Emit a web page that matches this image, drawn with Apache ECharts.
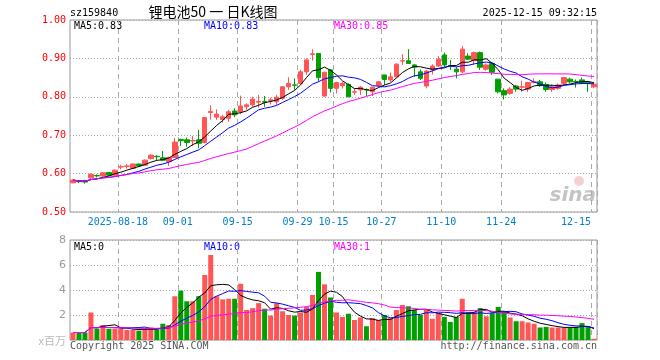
<!DOCTYPE html>
<html><head><meta charset="utf-8">
<script src="https://cdn.jsdelivr.net/npm/echarts@6/dist/echarts.min.js"></script>
<style>html,body{margin:0;padding:0;background:#fff}#c{width:660px;height:360px}</style>
</head><body><div id="c"></div>
<script>
const dates = [
'2025-08-06','2025-08-07','2025-08-08','2025-08-11','2025-08-12','2025-08-13','2025-08-14','2025-08-15','2025-08-18','2025-08-19',
'2025-08-20','2025-08-21','2025-08-22','2025-08-25','2025-08-26','2025-08-27','2025-08-28','2025-08-29',
'2025-09-01','2025-09-02','2025-09-03','2025-09-04','2025-09-05','2025-09-08','2025-09-09','2025-09-10','2025-09-11','2025-09-12',
'2025-09-15','2025-09-16','2025-09-17','2025-09-18','2025-09-19','2025-09-22','2025-09-23','2025-09-24','2025-09-25','2025-09-26',
'2025-09-29','2025-09-30',
'2025-10-09','2025-10-10','2025-10-13','2025-10-14','2025-10-15','2025-10-16','2025-10-17','2025-10-20','2025-10-21','2025-10-22',
'2025-10-23','2025-10-24','2025-10-27','2025-10-28','2025-10-29','2025-10-30','2025-10-31',
'2025-11-03','2025-11-04','2025-11-05','2025-11-06','2025-11-07','2025-11-10','2025-11-11','2025-11-12','2025-11-13','2025-11-14',
'2025-11-17','2025-11-18','2025-11-19','2025-11-20','2025-11-21','2025-11-24','2025-11-25','2025-11-26','2025-11-27','2025-11-28',
'2025-12-01','2025-12-02','2025-12-03','2025-12-04','2025-12-05','2025-12-08','2025-12-09','2025-12-10','2025-12-11','2025-12-12',
'2025-12-15'];

const opens = [0.576,0.580,0.581,0.589,0.595,0.594,0.603,0.596,0.617,0.619,
0.614,0.625,0.622,0.639,0.645,0.641,0.631,0.642,0.689,0.688,
0.685,0.688,0.681,0.759,0.747,0.741,0.744,0.763,0.761,0.774,
0.779,0.786,0.788,0.790,0.787,0.796,0.826,0.831,0.835,0.865,
0.910,0.913,0.802,0.870,0.822,0.829,0.832,0.812,0.818,0.819,
0.813,0.830,0.857,0.844,0.852,0.893,0.894,0.883,0.865,0.828,
0.870,0.880,0.909,0.881,0.872,0.865,0.906,0.894,0.915,0.872,
0.887,0.846,0.816,0.809,0.828,0.825,0.820,0.838,0.839,0.832,
0.819,0.822,0.835,0.846,0.840,0.844,0.838,0.826];

const closes = [0.583,0.579,0.578,0.598,0.594,0.602,0.596,0.609,0.618,0.620,
0.625,0.620,0.635,0.648,0.644,0.635,0.642,0.682,0.686,0.681,
0.686,0.679,0.746,0.762,0.755,0.748,0.761,0.753,0.776,0.779,
0.794,0.788,0.786,0.792,0.799,0.826,0.835,0.830,0.865,0.896,
0.912,0.850,0.864,0.822,0.837,0.835,0.800,0.813,0.825,0.818,
0.825,0.839,0.845,0.852,0.885,0.894,0.887,0.877,0.848,0.867,
0.880,0.898,0.883,0.880,0.865,0.924,0.898,0.915,0.877,0.883,
0.864,0.813,0.805,0.820,0.820,0.826,0.837,0.839,0.829,0.819,
0.826,0.831,0.850,0.839,0.839,0.837,0.835,0.833];

const lows = [0.575,0.575,0.574,0.583,0.590,0.588,0.594,0.592,0.611,0.613,
0.612,0.618,0.620,0.637,0.635,0.634,0.620,0.641,0.672,0.670,
0.672,0.666,0.679,0.740,0.740,0.733,0.735,0.747,0.755,0.766,
0.774,0.772,0.774,0.780,0.779,0.792,0.818,0.818,0.831,0.857,
0.894,0.839,0.800,0.811,0.809,0.822,0.799,0.805,0.805,0.802,
0.802,0.826,0.831,0.839,0.851,0.883,0.887,0.852,0.844,0.822,
0.858,0.878,0.878,0.870,0.848,0.861,0.896,0.883,0.870,0.868,
0.857,0.809,0.793,0.805,0.813,0.813,0.813,0.835,0.826,0.813,
0.813,0.818,0.831,0.835,0.824,0.833,0.813,0.822];

const highs = [0.585,0.583,0.584,0.601,0.598,0.604,0.604,0.611,0.623,0.625,
0.626,0.626,0.637,0.651,0.648,0.659,0.644,0.693,0.691,0.694,
0.698,0.714,0.747,0.778,0.767,0.753,0.766,0.770,0.803,0.783,
0.800,0.805,0.802,0.798,0.805,0.827,0.851,0.848,0.870,0.900,
0.924,0.914,0.865,0.872,0.839,0.839,0.835,0.822,0.828,0.822,
0.826,0.841,0.857,0.863,0.887,0.911,0.924,0.885,0.871,0.870,
0.885,0.906,0.915,0.896,0.878,0.932,0.913,0.918,0.918,0.887,
0.889,0.846,0.822,0.825,0.831,0.842,0.839,0.848,0.844,0.837,
0.832,0.835,0.852,0.850,0.845,0.850,0.840,0.837];

// volume, millions of shares
const volumes = [0.6,0.6,0.6,2.2,0.9,1.2,0.9,0.9,0.95,0.8,
0.8,0.75,0.95,1.0,0.85,1.3,1.2,3.5,3.95,3.1,
3.1,3.5,5.2,6.8,3.5,3.25,3.3,3.3,4.5,2.4,
2.55,2.95,2.5,1.95,2.95,2.3,2.0,1.95,2.2,2.65,
3.6,5.45,4.45,3.4,2.2,1.85,2.1,1.6,1.8,1.1,
1.75,1.6,2.0,1.75,2.4,2.8,2.7,2.4,2.0,2.4,
1.7,2.15,1.85,1.45,1.85,3.3,2.25,2.25,2.55,1.9,
2.15,2.65,2.25,1.8,1.5,1.5,1.4,1.3,1.0,1.05,
1.0,1.0,1.0,1.0,1.05,1.35,1.05,0.1];

const labelDates = ['2025-08-18','2025-09-01','2025-09-15','2025-09-29','2025-10-15','2025-10-27','2025-11-10','2025-11-24','2025-12-15'];
const tickLabels = ['2025-08-18','09-01','09-15','09-29','10-15','10-27','11-10','11-24','12-15'];
const maLabels = ['MA5:0.83','MA10:0.83','MA30:0.85'];
const volMaLabels = ['MA5:0','MA10:0','MA30:1'];
const maPeriods = [5,10,30];
const maColors = ['#000000','#0000ff','#ff00ff'];

const UP = '#ff5555', DOWN = '#00a000';
const MONO = '"DejaVu Sans Mono", monospace';

function ma(arr, n){
  const out = [];
  for (let i=0;i<arr.length;i++){
    const s = Math.max(0,i-n+1); let sum=0;
    for (let j=s;j<=i;j++) sum+=arr[j];
    out.push(+(sum/(i-s+1)).toFixed(4));
  }
  return out;
}

const candleData = dates.map((d,i)=>[opens[i],closes[i],lows[i],highs[i]]);
const volData = volumes.map((v,i)=>({value:v,itemStyle:{color: closes[i]>=opens[i]?UP:DOWN}}));

const isLabel = (i,v)=>labelDates.indexOf(v)>=0;
const splitLine = {show:true, interval:isLabel, lineStyle:{color:'#aaaaaa', width:1, type:[5,4]}};

const series = [{
  type:'candlestick', xAxisIndex:0, yAxisIndex:0, data:candleData, barWidth:5,
  itemStyle:{color:UP,color0:DOWN,borderColor:UP,borderColor0:DOWN,borderWidth:1}
}];
maPeriods.forEach((n,k)=>series.push({type:'line',xAxisIndex:0,yAxisIndex:0,data:ma(closes,n),symbol:'none',
  lineStyle:{color:maColors[k],width:1},z:5,silent:true}));
series.push({type:'bar',xAxisIndex:1,yAxisIndex:1,data:volData,barWidth:5});
maPeriods.forEach((n,k)=>series.push({type:'line',xAxisIndex:1,yAxisIndex:1,data:ma(volumes,n),symbol:'none',
  lineStyle:{color:maColors[k],width:1},z:5,silent:true}));

const graphic = [
  {type:'text',style:{text:'sz159840',x:70,y:13,fill:'#000',font:'10px '+MONO,textAlign:'left',textVerticalAlign:'middle'}},
  {type:'text',style:{text:'锂电池50 一 日K线图',x:213,y:12,fill:'#000',font:'14px "Noto Sans CJK SC"',textAlign:'center',textVerticalAlign:'middle'}},
  {type:'text',style:{text:'2025-12-15 09:32:15',x:597,y:13,fill:'#000',font:'10px '+MONO,textAlign:'right',textVerticalAlign:'middle'}},
  {type:'text',style:{text:'x百万',x:66,y:341,fill:'#bbbbbb',font:'11px "Noto Sans CJK SC"',textAlign:'right',textVerticalAlign:'middle'}},
  {type:'text',style:{text:'Copyright 2025 SINA.COM',x:70,y:346,fill:'#555',font:'10px '+MONO,textAlign:'left',textVerticalAlign:'middle'}},
  {type:'text',style:{text:'http://finance.sina.com.cn',x:597,y:346,fill:'#555',font:'10px '+MONO,textAlign:'right',textVerticalAlign:'middle'}},
  {type:'text',style:{text:'sina',x:596,y:196,fill:'#c4c4c4',font:'italic bold 20px "DejaVu Sans"',textAlign:'right',textVerticalAlign:'middle'}},
  {type:'circle',shape:{cx:579,cy:181,r:5},style:{fill:'rgba(230,120,120,0.35)'}}
];
const maX = [74,204,334];
maLabels.forEach((t,k)=>graphic.push({type:'text',style:{text:t,x:maX[k],y:26,fill:maColors[k],font:'10px '+MONO,textAlign:'left',textVerticalAlign:'middle'}}));
volMaLabels.forEach((t,k)=>graphic.push({type:'text',style:{text:t,x:maX[k],y:247,fill:maColors[k],font:'10px '+MONO,textAlign:'left',textVerticalAlign:'middle'}}));

const chart = echarts.init(document.getElementById('c'),null,{renderer:'canvas'});
chart.setOption({
  animation:false,
  backgroundColor:'#ffffff',
  grid:[
    {left:70,top:20,width:527,height:192,show:true,borderColor:'#999999',borderWidth:1,backgroundColor:'transparent'},
    {left:70,top:240,width:527,height:100,show:true,borderColor:'#999999',borderWidth:1,backgroundColor:'transparent'}
  ],
  xAxis:[
    {type:'category',gridIndex:0,data:dates,boundaryGap:true,axisLine:{show:false},axisTick:{show:false},splitLine:splitLine,
     axisLabel:{interval:isLabel,margin:5,color:'#0080cc',fontFamily:MONO,fontSize:10,
       formatter:function(v){const k=labelDates.indexOf(v); const t=tickLabels[k]; return k===labelDates.length-1?'{b|'+t+'}':'{a|'+t+'}';},
       rich:{a:{color:'#0080cc',fontFamily:MONO,fontSize:10,padding:[0,6,0,0]},b:{color:'#0080cc',fontFamily:MONO,fontSize:10,padding:[0,36,0,0]}}}},
    {type:'category',gridIndex:1,data:dates,boundaryGap:true,axisLine:{show:false},axisTick:{show:false},splitLine:splitLine,axisLabel:{show:false}}
  ],
  yAxis:[
    {type:'value',gridIndex:0,min:0.5,max:1.0,interval:0.1,axisLine:{show:false},axisTick:{show:false},
     axisLabel:{formatter:v=>v.toFixed(2),color:'#ff0000',fontFamily:MONO,fontSize:10,margin:4},
     splitLine:{lineStyle:{color:'#aaaaaa',width:1,type:[1,2]}}},
    {type:'value',gridIndex:1,min:0,max:8,interval:2,axisLine:{show:false},axisTick:{show:false},
     axisLabel:{formatter:v=>v===0?'':String(v),color:'#999999',fontFamily:'DejaVu Sans',fontSize:11,margin:4},
     splitLine:{lineStyle:{color:'#aaaaaa',width:1,type:[1,2]}}}
  ],
  series:series,
  graphic:graphic
});
</script>
</body></html>
